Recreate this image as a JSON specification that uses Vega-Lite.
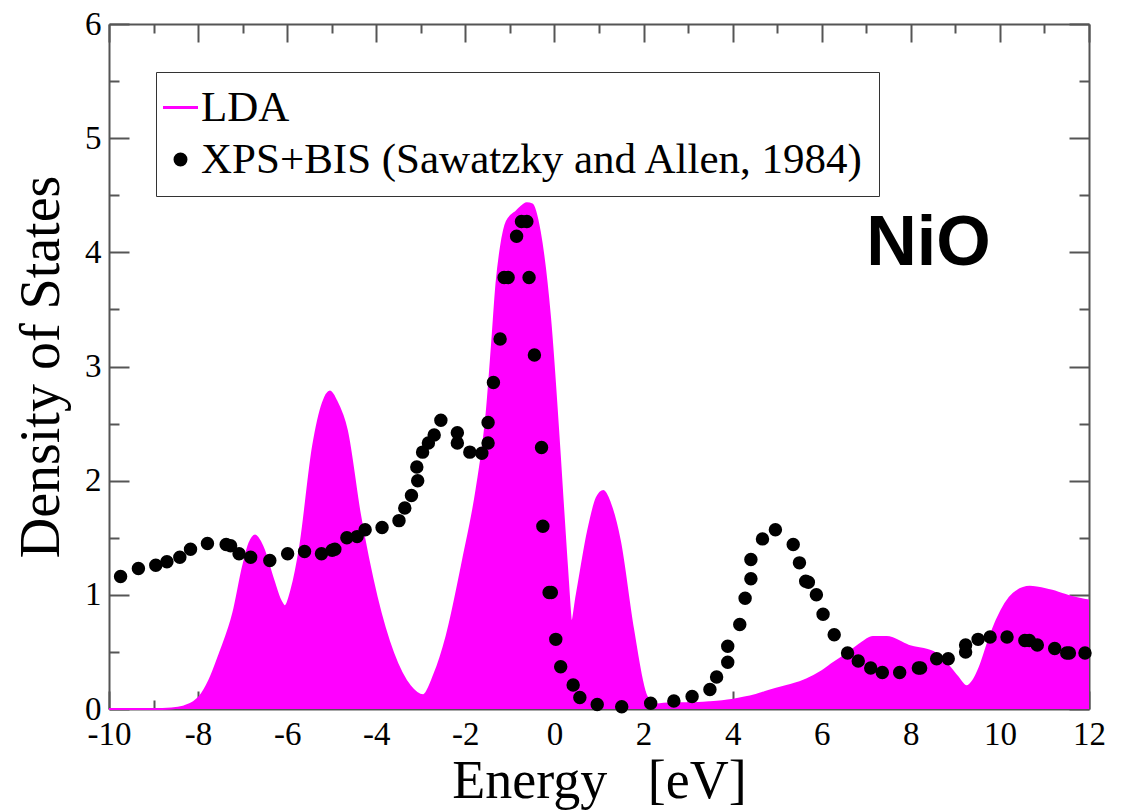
{
  "$schema": "https://vega.github.io/schema/vega-lite/v6.json",
  "width": 980,
  "height": 685,
  "autosize": {"type": "none"},
  "padding": {"left": 109, "top": 24, "right": 37, "bottom": 101},
  "background": "white",
  "config": {
    "view": {"stroke": null},
    "axis": {
      "grid": false,
      "zindex": 1,
      "domainColor": "#555555",
      "domainWidth": 2,
      "tickColor": "#555555",
      "tickWidth": 2,
      "labelFont": "Liberation Serif",
      "labelFontSize": 33,
      "labelColor": "black",
      "titleFont": "Liberation Serif",
      "titleFontWeight": "normal",
      "titleColor": "black",
      "labelFlush": false,
      "labelOverlap": false
    }
  },
  "datasets": {
    "lda": [
      {"E": -10, "D": 0}, {"E": -9, "D": 0}, {"E": -8.6, "D": 0.005}, {"E": -8.34, "D": 0.02},
      {"E": -8.1, "D": 0.06}, {"E": -7.96, "D": 0.11}, {"E": -7.75, "D": 0.25}, {"E": -7.51, "D": 0.49},
      {"E": -7.21, "D": 0.84}, {"E": -6.99, "D": 1.25}, {"E": -6.85, "D": 1.45}, {"E": -6.72, "D": 1.52},
      {"E": -6.55, "D": 1.42}, {"E": -6.31, "D": 1.13}, {"E": -6.15, "D": 0.95}, {"E": -6.05, "D": 0.9},
      {"E": -5.9, "D": 1.05}, {"E": -5.71, "D": 1.42}, {"E": -5.42, "D": 2.3}, {"E": -5.2, "D": 2.68},
      {"E": -5.04, "D": 2.78}, {"E": -4.9, "D": 2.7}, {"E": -4.66, "D": 2.44}, {"E": -4.37, "D": 1.71},
      {"E": -3.99, "D": 0.98}, {"E": -3.62, "D": 0.49}, {"E": -3.24, "D": 0.2}, {"E": -2.95, "D": 0.12},
      {"E": -2.7, "D": 0.3}, {"E": -2.42, "D": 0.64}, {"E": -2.05, "D": 1.31}, {"E": -1.75, "D": 1.92},
      {"E": -1.52, "D": 2.6}, {"E": -1.4, "D": 3.2}, {"E": -1.3, "D": 3.73}, {"E": -1.2, "D": 4.05},
      {"E": -1.07, "D": 4.27}, {"E": -0.85, "D": 4.36}, {"E": -0.62, "D": 4.43}, {"E": -0.5, "D": 4.42},
      {"E": -0.33, "D": 4.18}, {"E": -0.1, "D": 3.43}, {"E": 0.12, "D": 2.22}, {"E": 0.27, "D": 1.31},
      {"E": 0.39, "D": 0.77}, {"E": 0.5, "D": 1.0}, {"E": 0.75, "D": 1.55}, {"E": 0.95, "D": 1.85},
      {"E": 1.1, "D": 1.91}, {"E": 1.25, "D": 1.8}, {"E": 1.47, "D": 1.47}, {"E": 1.76, "D": 0.71},
      {"E": 2.07, "D": 0.11}, {"E": 2.3, "D": 0.04}, {"E": 2.6, "D": 0.05}, {"E": 3.04, "D": 0.05},
      {"E": 3.5, "D": 0.06}, {"E": 3.98, "D": 0.08}, {"E": 4.5, "D": 0.12}, {"E": 4.9, "D": 0.17},
      {"E": 5.3, "D": 0.21}, {"E": 5.66, "D": 0.26}, {"E": 6.0, "D": 0.33}, {"E": 6.25, "D": 0.4},
      {"E": 6.63, "D": 0.5}, {"E": 6.9, "D": 0.58}, {"E": 7.15, "D": 0.63}, {"E": 7.46, "D": 0.63},
      {"E": 7.98, "D": 0.55}, {"E": 8.5, "D": 0.5}, {"E": 8.8, "D": 0.4}, {"E": 9.05, "D": 0.28},
      {"E": 9.25, "D": 0.2}, {"E": 9.4, "D": 0.25}, {"E": 9.55, "D": 0.37}, {"E": 9.75, "D": 0.6},
      {"E": 9.93, "D": 0.78}, {"E": 10.3, "D": 1.01}, {"E": 10.67, "D": 1.07}, {"E": 11.12, "D": 1.04},
      {"E": 11.64, "D": 0.98}, {"E": 12, "D": 0.95}
    ],
    "xps": [
      {"E": -9.74, "D": 1.16}, {"E": -9.34, "D": 1.23}, {"E": -8.95, "D": 1.26}, {"E": -8.7, "D": 1.29},
      {"E": -8.41, "D": 1.33}, {"E": -8.17, "D": 1.4}, {"E": -7.79, "D": 1.45}, {"E": -7.37, "D": 1.44},
      {"E": -7.27, "D": 1.43}, {"E": -7.08, "D": 1.36}, {"E": -6.82, "D": 1.33}, {"E": -6.39, "D": 1.3},
      {"E": -5.99, "D": 1.36}, {"E": -5.61, "D": 1.38}, {"E": -5.23, "D": 1.36}, {"E": -4.99, "D": 1.39},
      {"E": -4.93, "D": 1.4}, {"E": -4.66, "D": 1.5}, {"E": -4.43, "D": 1.51}, {"E": -4.25, "D": 1.57},
      {"E": -3.87, "D": 1.59}, {"E": -3.49, "D": 1.65}, {"E": -3.36, "D": 1.76}, {"E": -3.21, "D": 1.87},
      {"E": -3.07, "D": 2.0}, {"E": -3.09, "D": 2.12}, {"E": -2.96, "D": 2.25}, {"E": -2.83, "D": 2.33},
      {"E": -2.7, "D": 2.4}, {"E": -2.55, "D": 2.53}, {"E": -2.18, "D": 2.42}, {"E": -2.18, "D": 2.33},
      {"E": -1.9, "D": 2.25}, {"E": -1.63, "D": 2.24}, {"E": -1.49, "D": 2.33}, {"E": -1.49, "D": 2.51},
      {"E": -1.37, "D": 2.86}, {"E": -1.22, "D": 3.24}, {"E": -1.13, "D": 3.78}, {"E": -1.04, "D": 3.78},
      {"E": -0.85, "D": 4.14}, {"E": -0.74, "D": 4.27}, {"E": -0.62, "D": 4.27}, {"E": -0.57, "D": 3.78},
      {"E": -0.45, "D": 3.1}, {"E": -0.29, "D": 2.29}, {"E": -0.26, "D": 1.6}, {"E": -0.12, "D": 1.02},
      {"E": -0.07, "D": 1.02}, {"E": 0.03, "D": 0.61}, {"E": 0.14, "D": 0.37}, {"E": 0.42, "D": 0.21},
      {"E": 0.57, "D": 0.1}, {"E": 0.96, "D": 0.04}, {"E": 1.51, "D": 0.02}, {"E": 2.16, "D": 0.05},
      {"E": 2.68, "D": 0.07}, {"E": 3.09, "D": 0.11}, {"E": 3.49, "D": 0.17}, {"E": 3.64, "D": 0.28},
      {"E": 3.89, "D": 0.41}, {"E": 3.89, "D": 0.55}, {"E": 4.16, "D": 0.74}, {"E": 4.28, "D": 0.97},
      {"E": 4.41, "D": 1.14}, {"E": 4.41, "D": 1.31}, {"E": 4.67, "D": 1.49}, {"E": 4.96, "D": 1.57},
      {"E": 5.36, "D": 1.44}, {"E": 5.5, "D": 1.28}, {"E": 5.64, "D": 1.12}, {"E": 5.7, "D": 1.11},
      {"E": 5.88, "D": 1.0}, {"E": 6.03, "D": 0.83}, {"E": 6.28, "D": 0.65}, {"E": 6.58, "D": 0.49},
      {"E": 6.82, "D": 0.42}, {"E": 7.1, "D": 0.36}, {"E": 7.36, "D": 0.32}, {"E": 7.75, "D": 0.32},
      {"E": 8.17, "D": 0.36}, {"E": 8.22, "D": 0.36}, {"E": 8.58, "D": 0.44}, {"E": 8.84, "D": 0.44},
      {"E": 9.23, "D": 0.56}, {"E": 9.23, "D": 0.5}, {"E": 9.51, "D": 0.61}, {"E": 9.78, "D": 0.63},
      {"E": 10.16, "D": 0.63}, {"E": 10.56, "D": 0.6}, {"E": 10.66, "D": 0.6}, {"E": 10.84, "D": 0.56},
      {"E": 11.23, "D": 0.53}, {"E": 11.5, "D": 0.49}, {"E": 11.56, "D": 0.49}, {"E": 11.91, "D": 0.49}
    ],
    "note": [{"E": 7.0, "D": 3.89, "label": "NiO"}]
  },
  "layer": [
    {
      "data": {"name": "lda"},
      "mark": {"type": "area", "color": "#ff00ff", "opacity": 1, "interpolate": "monotone"},
      "encoding": {
        "x": {
          "field": "E", "type": "quantitative",
          "scale": {"domain": [-10, 12], "nice": false, "zero": false},
          "axis": {
            "orient": "bottom", "values": [-10, -8, -6, -4, -2, 0, 2, 4, 6, 8, 10, 12],
            "labelExpr": "datum.value < 0 ? '-' + abs(datum.value) : '' + datum.value",
            "tickSize": -18, "labelPadding": 27, "domain": true,
            "title": "Energy\u00a0\u00a0\u00a0[eV]", "titleFontSize": 54, "titlePadding": 3
          }
        },
        "y": {
          "field": "D", "type": "quantitative",
          "scale": {"domain": [0, 6], "nice": false},
          "axis": {
            "orient": "left", "values": [0, 1, 2, 3, 4, 5, 6],
            "tickSize": -20, "labelPadding": 28, "domain": true,
            "title": "Density of States", "titleFontSize": 56, "titlePadding": 14
          }
        }
      }
    },
    {
      "data": {"name": "lda"},
      "mark": {"type": "line", "color": "#ff00ff", "strokeWidth": 2, "interpolate": "monotone"},
      "encoding": {
        "x": {
          "field": "E", "type": "quantitative",
          "scale": {"domain": [-10, 12], "nice": false, "zero": false},
          "axis": {
            "orient": "bottom", "values": [-9, -7, -5, -3, -1, 1, 3, 5, 7, 9, 11],
            "tickSize": -9, "labels": false, "domain": false, "title": null
          }
        },
        "y": {
          "field": "D", "type": "quantitative",
          "scale": {"domain": [0, 6], "nice": false},
          "axis": {
            "orient": "left", "values": [0.5, 1.5, 2.5, 3.5, 4.5, 5.5],
            "tickSize": -10, "labels": false, "domain": false, "title": null
          }
        }
      }
    },
    {
      "data": {"name": "xps"},
      "mark": {"type": "point", "filled": true, "opacity": 1, "strokeWidth": 2.5},
      "encoding": {
        "x": {
          "field": "E", "type": "quantitative",
          "scale": {"domain": [-10, 12], "nice": false, "zero": false},
          "axis": {
            "orient": "top", "values": [-10, -8, -6, -4, -2, 0, 2, 4, 6, 8, 10, 12],
            "tickSize": -18, "labels": false, "domain": true, "title": null
          }
        },
        "y": {
          "field": "D", "type": "quantitative",
          "scale": {"domain": [0, 6], "nice": false},
          "axis": {
            "orient": "right", "values": [0, 1, 2, 3, 4, 5, 6],
            "tickSize": -20, "labels": false, "domain": true, "title": null
          }
        },
        "fill": {
          "datum": "XPS+BIS (Sawatzky and Allen, 1984)",
          "type": "nominal",
          "scale": {"domain": ["LDA", "XPS+BIS (Sawatzky and Allen, 1984)"], "range": ["#ff00ff", "black"]},
          "legend": {
            "orient": "none", "legendX": 47, "legendY": 48, "title": null,
            "padding": 14, "strokeColor": "#333333", "fillColor": "white",
            "labelFont": "Liberation Serif", "labelFontSize": 43, "labelColor": "black",
            "labelLimit": 1200, "rowPadding": 8, "labelOffset": -1, "symbolOffset": -11,
            "symbolStrokeWidth": 3
          }
        },
        "stroke": {
          "datum": "XPS+BIS (Sawatzky and Allen, 1984)",
          "type": "nominal",
          "scale": {"domain": ["LDA", "XPS+BIS (Sawatzky and Allen, 1984)"], "range": ["#ff00ff", "black"]}
        },
        "shape": {
          "datum": "XPS+BIS (Sawatzky and Allen, 1984)",
          "type": "nominal",
          "scale": {"domain": ["LDA", "XPS+BIS (Sawatzky and Allen, 1984)"], "range": ["stroke", "circle"]}
        },
        "size": {
          "datum": "XPS+BIS (Sawatzky and Allen, 1984)",
          "type": "nominal",
          "scale": {"type": "ordinal", "domain": ["LDA", "XPS+BIS (Sawatzky and Allen, 1984)"], "range": [1225, 120]}
        }
      }
    },
    {
      "data": {"name": "note"},
      "mark": {"type": "text", "font": "Liberation Sans", "fontWeight": "bold", "fontSize": 70, "align": "left", "baseline": "alphabetic", "color": "black"},
      "encoding": {
        "x": {
          "field": "E", "type": "quantitative",
          "scale": {"domain": [-10, 12], "nice": false, "zero": false},
          "axis": {
            "orient": "top", "values": [-9, -7, -5, -3, -1, 1, 3, 5, 7, 9, 11],
            "tickSize": -9, "labels": false, "domain": false, "title": null
          }
        },
        "y": {
          "field": "D", "type": "quantitative",
          "scale": {"domain": [0, 6], "nice": false},
          "axis": {
            "orient": "right", "values": [0.5, 1.5, 2.5, 3.5, 4.5, 5.5],
            "tickSize": -10, "labels": false, "domain": false, "title": null
          }
        },
        "text": {"field": "label"}
      }
    }
  ],
  "resolve": {"axis": {"x": "independent", "y": "independent"}}
}
